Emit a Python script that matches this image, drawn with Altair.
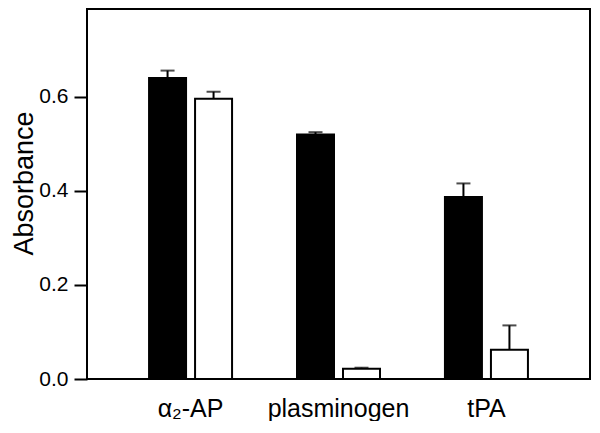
import altair as alt
import pandas as pd

categories = ["α₂-AP", "plasminogen", "tPA"]
series = ["filled", "open"]
filled_values = [0.640, 0.520, 0.387]
filled_errors = [0.016, 0.005, 0.029]
open_values = [0.596, 0.022, 0.062]
open_errors = [0.015, 0.002, 0.052]
y_ticks = [0.0, 0.2, 0.4, 0.6]

rows = []
for c, v, e in zip(categories, filled_values, filled_errors):
    rows.append({"category": c, "series": "filled", "value": v, "top": v + e})
for c, v, e in zip(categories, open_values, open_errors):
    rows.append({"category": c, "series": "open", "value": v, "top": v + e})
df = pd.DataFrame(rows)

FONT = "Liberation Sans"

x_enc = alt.X(
    "category:N",
    sort=categories,
    scale=alt.Scale(paddingInner=0, paddingOuter=0.2),
    axis=alt.Axis(
        title=None, labelAngle=0, ticks=False, tickSize=0, labelPadding=17,
        labelFontSize=25, labelFont=FONT, labelColor="black", domain=False, grid=False,
    ),
)
xo_enc = alt.XOffset("series:N", sort=series, scale=alt.Scale(paddingInner=0.1957, paddingOuter=0.706))
y_scale = alt.Scale(domain=[0, 0.787], nice=False, zero=True)
y_axis = alt.Axis(
    values=y_ticks, format=".1f", title="Absorbance", grid=False, domain=False,
    tickSize=13, tickWidth=2, tickColor="black", labelFontSize=21, labelFont=FONT,
    labelColor="black", labelPadding=6, titleFont=FONT, titleFontSize=27,
    titleFontWeight="normal", titleColor="black", titleX=-55, titleY=174,
    titleBaseline="alphabetic",
)

bars = alt.Chart(df).mark_bar(stroke="black", strokeWidth=2).encode(
    x=x_enc,
    xOffset=xo_enc,
    y=alt.Y("value:Q", scale=y_scale, axis=y_axis),
    fill=alt.Fill("series:N", scale=alt.Scale(domain=series, range=["black", "white"]), legend=None),
)
err = alt.Chart(df).mark_rule(color="black", strokeWidth=2).encode(
    x=x_enc,
    xOffset=xo_enc,
    y=alt.Y("value:Q", scale=y_scale, axis=y_axis),
    y2="top:Q",
)
caps = alt.Chart(df).mark_tick(color="black", thickness=2, size=14).encode(
    x=x_enc,
    xOffset=xo_enc,
    y=alt.Y("top:Q", scale=y_scale, axis=y_axis),
)

chart = (
    alt.layer(err, bars, caps)
    .properties(
        width=503, height=370,
        autosize=alt.AutoSizeParams(type="none"),
        padding={"left": 79, "top": 1, "right": 2, "bottom": 42},
    )
    .configure_view(stroke="black", strokeWidth=2)
)

chart.save("out.html", embed_options={"renderer": "svg", "actions": False})
